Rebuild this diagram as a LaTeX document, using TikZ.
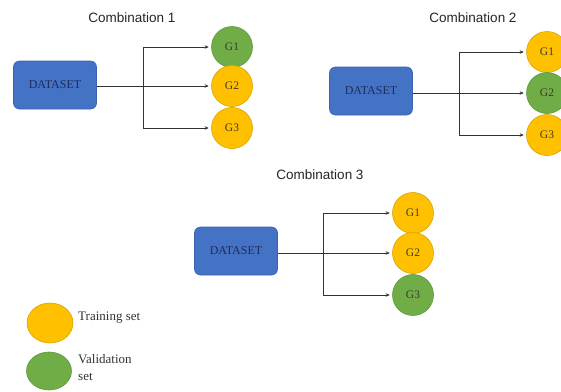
\documentclass[tikz,border=0pt]{standalone}
\usepackage{fontspec}
\setmainfont{Liberation Serif}
\newfontfamily\titlefont{Liberation Sans}
\usetikzlibrary{shapes.geometric,arrows.meta}
\definecolor{dsblue}{HTML}{4472C4}
\definecolor{dsedge}{HTML}{3A62AE}
\definecolor{dstext}{HTML}{1F2E5C}
\definecolor{trainfill}{HTML}{FFC000}
\definecolor{trainedge}{HTML}{D9A300}
\definecolor{valfill}{HTML}{70AD47}
\definecolor{valedge}{HTML}{5E9A3A}
\definecolor{gtext}{HTML}{3F3A30}
\definecolor{linecol}{HTML}{333333}
\tikzset{
  dataset/.style={rectangle, rounded corners=6pt, fill=dsblue, draw=dsedge, line width=0.6pt,
    minimum width=83pt, minimum height=48pt, text=dstext, font=\fontsize{12}{14}\selectfont},
  train/.style={circle, fill=trainfill, draw=trainedge, line width=0.6pt, minimum size=41pt, inner sep=0pt,
    text=gtext, font=\fontsize{11.5}{13}\selectfont},
  valid/.style={circle, fill=valfill, draw=valedge, line width=0.6pt, minimum size=41pt, inner sep=0pt,
    text=gtext, font=\fontsize{11.5}{13}\selectfont},
  title/.style={font=\titlefont\fontsize{13.5}{16}\selectfont, text=black!85},
  conn/.style={draw=linecol, line width=0.8pt},
  arr/.style={conn, -{Stealth[length=4pt,width=3.5pt]}, shorten >=2.5pt},
  legtext/.style={font=\fontsize{13}{17}\selectfont, text=black!80, align=left, anchor=west, inner sep=0pt}
}
\begin{document}
\begin{tikzpicture}[x=1pt,y=-1pt]
\useasboundingbox (0,0) rectangle (561,391);
\fill[white] (0,0) rectangle (561,391);

% Combination 1
\node[title] (t1) at (132,18) {Combination 1};
\node[dataset] (d1) at (55,85) {DATASET};
\node[valid] (a1) at (232,47) {G1};
\node[train] (a2) at (232,86) {G2};
\node[train] (a3) at (232,128) {G3};
\coordinate (b1) at (143,86);
\draw[arr] (d1.east |- a2.west) -- (a2.west);
\draw[conn] (b1 |- a1.west) -- (b1 |- a3.west);
\draw[arr] (b1 |- a1.west) -- (a1.west);
\draw[arr] (b1 |- a3.west) -- (a3.west);

% Combination 2
\node[title] (t2) at (473,18) {Combination 2};
\node[dataset] (d2) at (371,91) {DATASET};
\node[train] (c1) at (547,52) {G1};
\node[valid] (c2) at (547,93) {G2};
\node[train] (c3) at (547,135) {G3};
\coordinate (b2) at (459,93);
\draw[arr] (d2.east |- c2.west) -- (c2.west);
\draw[conn] (b2 |- c1.west) -- (b2 |- c3.west);
\draw[arr] (b2 |- c1.west) -- (c1.west);
\draw[arr] (b2 |- c3.west) -- (c3.west);

% Combination 3
\node[title] (t3) at (320,175) {Combination 3};
\node[dataset] (d3) at (236,251) {DATASET};
\node[train] (e1) at (413,213) {G1};
\node[train] (e2) at (413,253) {G2};
\node[valid] (e3) at (413,295) {G3};
\coordinate (b3) at (323,253);
\draw[arr] (d3.east |- e2.west) -- (e2.west);
\draw[conn] (b3 |- e1.west) -- (b3 |- e3.west);
\draw[arr] (b3 |- e1.west) -- (e1.west);
\draw[arr] (b3 |- e3.west) -- (e3.west);

% Legend
\node[ellipse, fill=trainfill, draw=trainedge, line width=0.6pt, minimum width=46pt, minimum height=40pt, inner sep=0pt] (lt) at (50,323) {};
\node[ellipse, fill=valfill, draw=valedge, line width=0.6pt, minimum width=45pt, minimum height=38pt, inner sep=0pt] (lv) at (49,371) {};
\node[legtext] (ltt) at (78,318) {Training set};
\node[legtext] (lvt) at (78,368) {Validation\\set};
\end{tikzpicture}
\end{document}
